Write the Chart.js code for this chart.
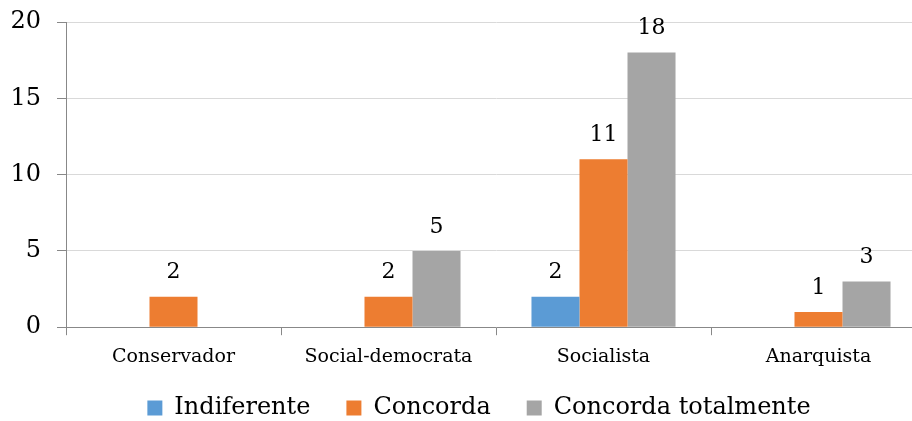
<!DOCTYPE html>
<html>
<head>
<meta charset="utf-8">
<script src="https://cdn.jsdelivr.net/npm/chart.js@4/dist/chart.umd.min.js"></script>
<style>
  html, body { margin: 0; padding: 0; background: #fff; overflow: hidden; }
  /* canvas a bit larger than the window: plot runs past the right edge, legend padding below is clipped */
  #wrap { width: 926px; height: 448px; position: relative; }
</style>
</head>
<body>
<div id="wrap"><canvas id="chart"></canvas></div>
<script>
const categories = ["Conservador", "Social-democrata", "Socialista", "Anarquista"];
const indiferente = [0, 0, 2, 0];
const concorda = [2, 2, 11, 1];
const concordaTotalmente = [0, 5, 18, 3];
const yTicks = [0, 5, 10, 15, 20];

const serif = "'DejaVu Serif', serif";

// values above bars, zeros left out
const barLabels = {
  id: "barLabels",
  afterLayout(chart) {
    // pull the legend a little closer to the axis labels
    chart.legend.top -= 18;
    chart.legend.bottom -= 18;
    chart.legend.left += 12;
    chart.legend.right += 12;
  },
  afterDatasetsDraw(chart) {
    const ctx = chart.ctx;
    ctx.save();
    ctx.font = "22px " + serif;
    ctx.fillStyle = "#000";
    ctx.textAlign = "center";
    ctx.textBaseline = "bottom";
    chart.data.datasets.forEach((ds, i) => {
      chart.getDatasetMeta(i).data.forEach((bar, j) => {
        if (!ds.data[j]) return;
        ctx.fillText(ds.data[j], bar.x, bar.y - 13);
      });
    });
    ctx.restore();
  },
};

new Chart(document.getElementById("chart"), {
  type: "bar",
  data: {
    labels: categories,
    datasets: [
      { label: "Indiferente", data: indiferente, backgroundColor: "#5B9BD5" },
      { label: "Concorda", data: concorda, backgroundColor: "#ED7D31" },
      { label: "Concorda totalmente", data: concordaTotalmente, backgroundColor: "#A5A5A5" },
    ],
  },
  options: {
    responsive: true,
    maintainAspectRatio: false,
    animation: false,
    datasets: { bar: { barPercentage: 1, categoryPercentage: 0.67 } },
    layout: { padding: { top: 22, left: 8, right: 0, bottom: 0 } },
    plugins: {
      legend: {
        position: "bottom",
        labels: {
          font: { family: serif, size: 24 },
          color: "#000",
          boxWidth: 15,
          boxHeight: 15,
          padding: 36,
        },
      },
      tooltip: { enabled: false },
    },
    scales: {
      x: {
        border: { color: "#888" },
        grid: { drawOnChartArea: false, tickLength: 8, tickColor: "#888" },
        ticks: { font: { family: serif, size: 19 }, color: "#000", padding: 10 },
      },
      y: {
        min: 0,
        max: 20,
        afterBuildTicks: (axis) => { axis.ticks = yTicks.map((v) => ({ value: v })); },
        border: { color: "#888" },
        grid: { color: "#d9d9d9", tickLength: 9, tickColor: "#888" },
        ticks: { font: { family: serif, size: 24 }, color: "#000", padding: 16 },
        afterFit: (axis) => {
          axis.width = 58;
          axis.paddingTop = 0;
          axis.paddingBottom = 0;
        },
      },
    },
  },
  plugins: [barLabels],
});
</script>
</body>
</html>
